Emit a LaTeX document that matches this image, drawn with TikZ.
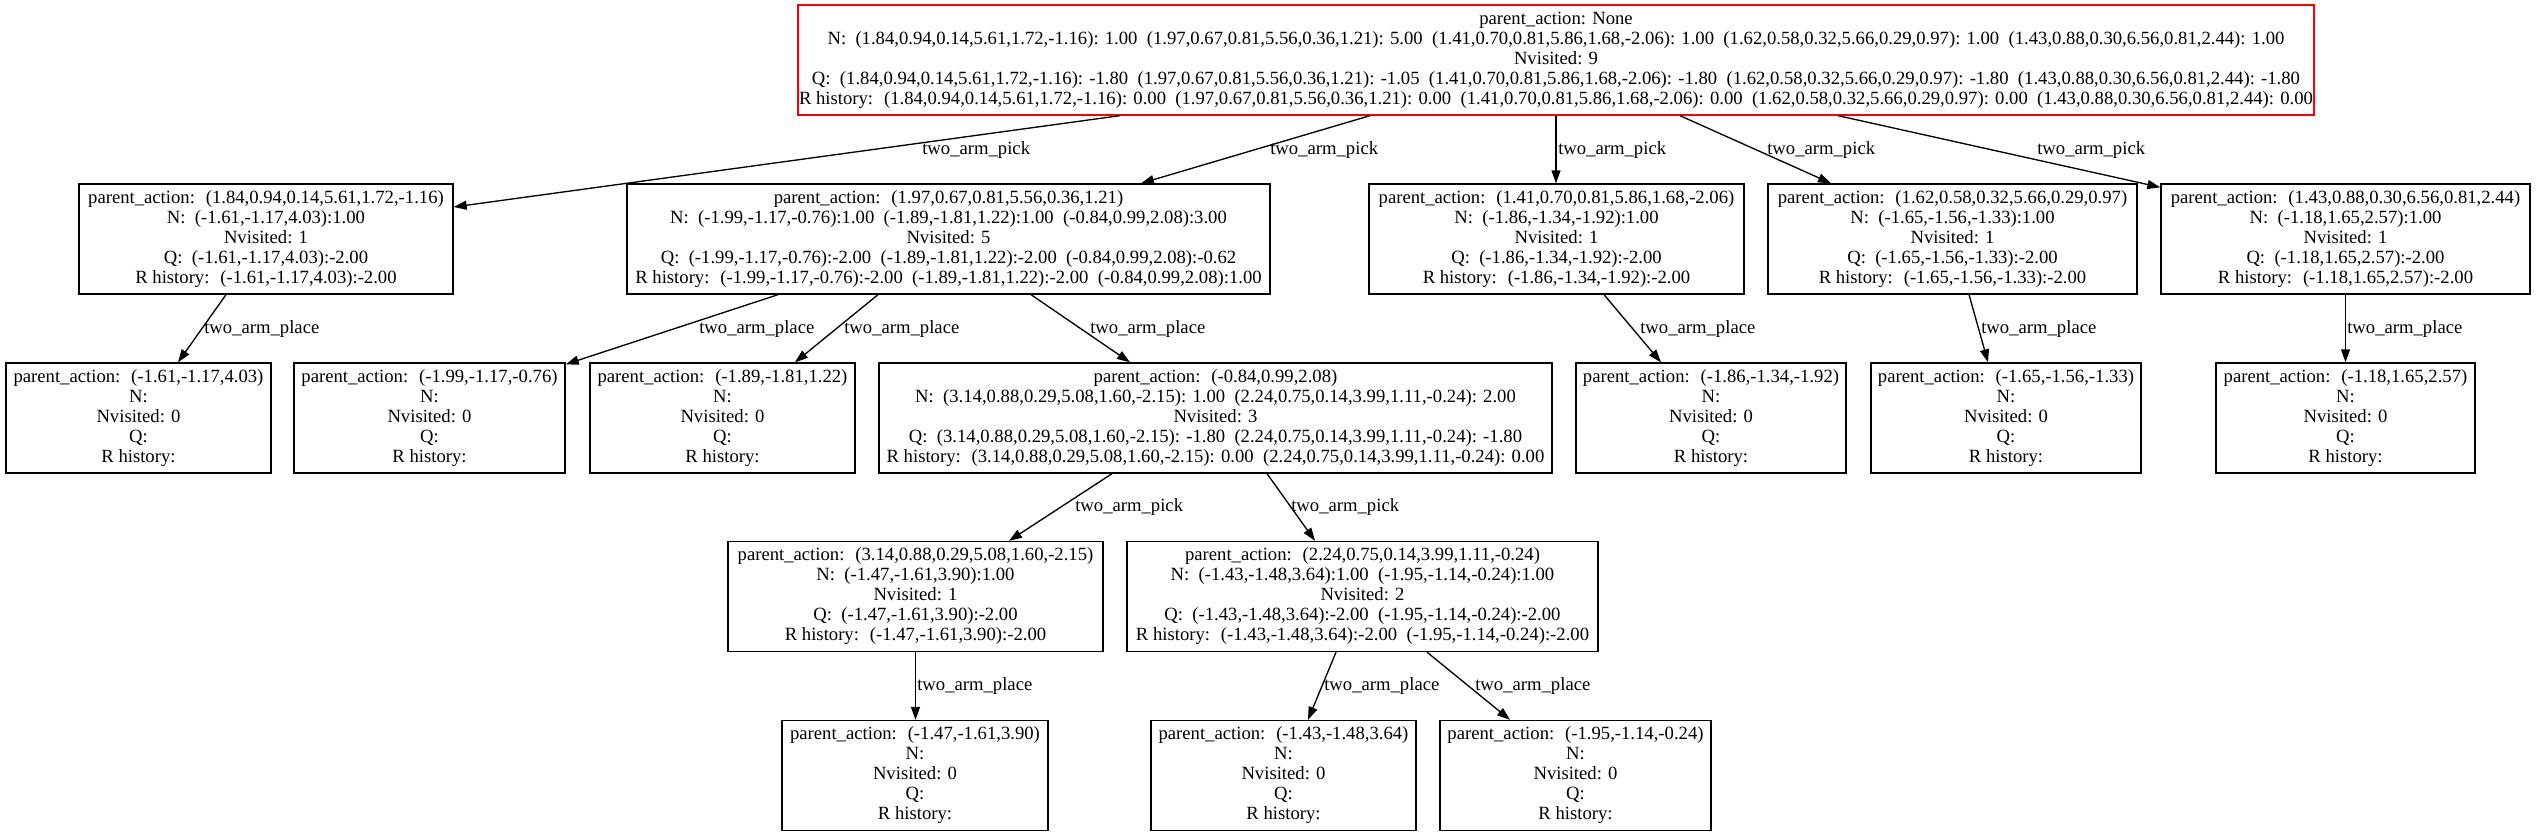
\documentclass[tikz,border=0pt]{standalone}
\usepackage{fontspec}
\setmainfont{Liberation Serif}
\usetikzlibrary{arrows.meta,calc}
\newcommand\myleaf[1]{parent\_action:~ #1\\N:\\Nvisited: 0\\Q:\\R history:}
\tikzset{
  box/.style={draw=black, line width=1pt, rectangle, align=center, inner sep=0pt,
    minimum height=82.5pt, font=\fontsize{14}{15}\selectfont},
  rootbox/.style={box, draw=red},
  edge/.style={line width=1pt, -{Triangle[length=9.75pt,width=6.75pt]}},
  elabel/.style={anchor=west, inner sep=0pt, font=\fontsize{14}{15}\selectfont},
}
\begin{document}
\begin{tikzpicture}[x=0.75pt,y=-0.75pt]
\fill[white] (0,0) rectangle (2536,836);
\useasboundingbox (0,0) rectangle (2536,836);

% root
\node[rootbox, minimum width=1137pt] (root) at (1556,60) {parent\_action: None\\
N:~ (1.84,0.94,0.14,5.61,1.72,-1.16): 1.00~ (1.97,0.67,0.81,5.56,0.36,1.21): 5.00~ (1.41,0.70,0.81,5.86,1.68,-2.06): 1.00~ (1.62,0.58,0.32,5.66,0.29,0.97): 1.00~ (1.43,0.88,0.30,6.56,0.81,2.44): 1.00\\
Nvisited: 9\\
Q:~ (1.84,0.94,0.14,5.61,1.72,-1.16): -1.80~ (1.97,0.67,0.81,5.56,0.36,1.21): -1.05~ (1.41,0.70,0.81,5.86,1.68,-2.06): -1.80~ (1.62,0.58,0.32,5.66,0.29,0.97): -1.80~ (1.43,0.88,0.30,6.56,0.81,2.44): -1.80\\
R history:~ (1.84,0.94,0.14,5.61,1.72,-1.16): 0.00~ (1.97,0.67,0.81,5.56,0.36,1.21): 0.00~ (1.41,0.70,0.81,5.86,1.68,-2.06): 0.00~ (1.62,0.58,0.32,5.66,0.29,0.97): 0.00~ (1.43,0.88,0.30,6.56,0.81,2.44): 0.00};

% level 1
\node[box, minimum width=280.5pt] (A) at (266,239) {parent\_action:~ (1.84,0.94,0.14,5.61,1.72,-1.16)\\
N:~ (-1.61,-1.17,4.03):1.00\\Nvisited: 1\\Q:~ (-1.61,-1.17,4.03):-2.00\\R history:~ (-1.61,-1.17,4.03):-2.00};
\node[box, minimum width=482.25pt] (B) at (948.5,239) {parent\_action:~ (1.97,0.67,0.81,5.56,0.36,1.21)\\
N:~ (-1.99,-1.17,-0.76):1.00~ (-1.89,-1.81,1.22):1.00~ (-0.84,0.99,2.08):3.00\\
Nvisited: 5\\
Q:~ (-1.99,-1.17,-0.76):-2.00~ (-1.89,-1.81,1.22):-2.00~ (-0.84,0.99,2.08):-0.62\\
R history:~ (-1.99,-1.17,-0.76):-2.00~ (-1.89,-1.81,1.22):-2.00~ (-0.84,0.99,2.08):1.00};
\node[box, minimum width=281.25pt] (C) at (1556.5,239) {parent\_action:~ (1.41,0.70,0.81,5.86,1.68,-2.06)\\
N:~ (-1.86,-1.34,-1.92):1.00\\Nvisited: 1\\Q:~ (-1.86,-1.34,-1.92):-2.00\\R history:~ (-1.86,-1.34,-1.92):-2.00};
\node[box, minimum width=276.75pt] (D) at (1952.5,239) {parent\_action:~ (1.62,0.58,0.32,5.66,0.29,0.97)\\
N:~ (-1.65,-1.56,-1.33):1.00\\Nvisited: 1\\Q:~ (-1.65,-1.56,-1.33):-2.00\\R history:~ (-1.65,-1.56,-1.33):-2.00};
\node[box, minimum width=276.75pt] (E) at (2345.5,239) {parent\_action:~ (1.43,0.88,0.30,6.56,0.81,2.44)\\
N:~ (-1.18,1.65,2.57):1.00\\Nvisited: 1\\Q:~ (-1.18,1.65,2.57):-2.00\\R history:~ (-1.18,1.65,2.57):-2.00};

% level 2
\node[box, minimum width=198.75pt] (A1) at (138.5,418) {\myleaf{(-1.61,-1.17,4.03)}};
\node[box, minimum width=203.25pt] (B1) at (429.5,418) {\myleaf{(-1.99,-1.17,-0.76)}};
\node[box, minimum width=198.75pt] (B2) at (722.5,418) {\myleaf{(-1.89,-1.81,1.22)}};
\node[box, minimum width=504.75pt] (B3) at (1215.5,418) {parent\_action:~ (-0.84,0.99,2.08)\\
N:~ (3.14,0.88,0.29,5.08,1.60,-2.15): 1.00~ (2.24,0.75,0.14,3.99,1.11,-0.24): 2.00\\
Nvisited: 3\\
Q:~ (3.14,0.88,0.29,5.08,1.60,-2.15): -1.80~ (2.24,0.75,0.14,3.99,1.11,-0.24): -1.80\\
R history:~ (3.14,0.88,0.29,5.08,1.60,-2.15): 0.00~ (2.24,0.75,0.14,3.99,1.11,-0.24): 0.00};
\node[box, minimum width=202.5pt] (C1) at (1711,418) {\myleaf{(-1.86,-1.34,-1.92)}};
\node[box, minimum width=202.5pt] (D1) at (2006,418) {\myleaf{(-1.65,-1.56,-1.33)}};
\node[box, minimum width=194.25pt] (E1) at (2345.5,418) {\myleaf{(-1.18,1.65,2.57)}};

% level 3
\node[box, minimum width=281.25pt] (B3a) at (915.5,596.5) {parent\_action:~ (3.14,0.88,0.29,5.08,1.60,-2.15)\\
N:~ (-1.47,-1.61,3.90):1.00\\Nvisited: 1\\Q:~ (-1.47,-1.61,3.90):-2.00\\R history:~ (-1.47,-1.61,3.90):-2.00};
\node[box, minimum width=353.25pt] (B3b) at (1362.5,596.5) {parent\_action:~ (2.24,0.75,0.14,3.99,1.11,-0.24)\\
N:~ (-1.43,-1.48,3.64):1.00~ (-1.95,-1.14,-0.24):1.00\\
Nvisited: 2\\
Q:~ (-1.43,-1.48,3.64):-2.00~ (-1.95,-1.14,-0.24):-2.00\\
R history:~ (-1.43,-1.48,3.64):-2.00~ (-1.95,-1.14,-0.24):-2.00};

% level 4
\node[box, minimum width=199.5pt] (a1) at (915,775.5) {\myleaf{(-1.47,-1.61,3.90)}};
\node[box, minimum width=198.75pt] (b1) at (1283.5,775.5) {\myleaf{(-1.43,-1.48,3.64)}};
\node[box, minimum width=203.25pt] (b2) at (1575.5,775.5) {\myleaf{(-1.95,-1.14,-0.24)}};

% edges
\draw[edge] ($(root.south)+(-436,0)$) -- ($(A.east)+(0,-32)$);
\draw[edge] ($(root.south)+(-186,0)$) -- ($(B.north)+(192.5,0)$);
\draw[edge] (root.south) -- (root.south |- C.north);
\draw[edge] ($(root.south)+(124,0)$) -- ($(D.north)+(-121.5,0)$);
\draw[edge] ($(root.south)+(282,0)$) -- ($(E.north west)+(0,4)$);

\draw[edge] ($(A.south)+(-40,0)$) -- ($(A1.north)+(39.5,0)$);
\draw[edge] ($(B.south)+(-170.5,0)$) -- ($(B1.north east)+(0,2)$);
\draw[edge] ($(B.south)+(-70.5,0)$) -- ($(B2.north)+(72.5,0)$);
\draw[edge] ($(B.south)+(82.5,0)$) -- ($(B3.north)+(-85.5,0)$);
\draw[edge] ($(C.south)+(47.5,0)$) -- ($(C1.north)+(-50,0)$);
\draw[edge] ($(D.south)+(16.5,0)$) -- ($(D1.north)+(-18,0)$);
\draw[edge] (E.south) -- (E1.north);

\draw[edge] ($(B3.south)+(-103.5,0)$) -- ($(B3a.north)+(93.5,0)$);
\draw[edge] ($(B3.south)+(51.5,0)$) -- ($(B3b.north)+(-47.5,0)$);

\draw[edge] (B3a.south) -- (B3a.south |- a1.north);
\draw[edge] ($(B3b.south)+(-26.5,0)$) -- ($(b1.north)+(24.5,0)$);
\draw[edge] ($(B3b.south)+(64.5,0)$) -- ($(b2.north)+(-65.5,0)$);

% edge labels
\node[elabel] (lA) at (922,150) {two\_arm\_pick};
\node[elabel] (lB) at (1270,150) {two\_arm\_pick};
\node[elabel] (lC) at (1558,150) {two\_arm\_pick};
\node[elabel] (lD) at (1767,150) {two\_arm\_pick};
\node[elabel] (lE) at (2037,150) {two\_arm\_pick};

\node[elabel] (lA1) at (204,329) {two\_arm\_place};
\node[elabel] (lB1) at (699,329) {two\_arm\_place};
\node[elabel] (lB2) at (844,329) {two\_arm\_place};
\node[elabel] (lB3) at (1090,329) {two\_arm\_place};
\node[elabel] (lC1) at (1640,329) {two\_arm\_place};
\node[elabel] (lD1) at (1981,329) {two\_arm\_place};
\node[elabel] (lE1) at (2347,329) {two\_arm\_place};

\node[elabel] (lB3a) at (1075,507) {two\_arm\_pick};
\node[elabel] (lB3b) at (1291,507) {two\_arm\_pick};

\node[elabel] (la1) at (917,686) {two\_arm\_place};
\node[elabel] (lb1) at (1324,686) {two\_arm\_place};
\node[elabel] (lb2) at (1475,686) {two\_arm\_place};
\end{tikzpicture}
\end{document}
